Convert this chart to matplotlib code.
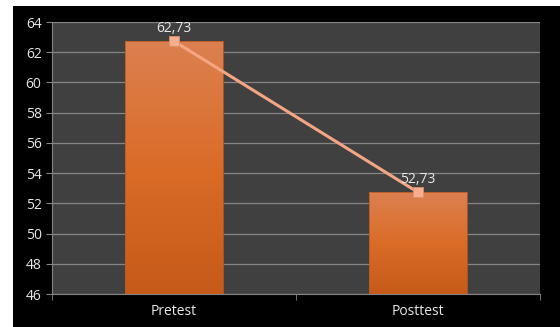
import numpy as np
from matplotlib import pyplot as plt
from matplotlib.colors import LinearSegmentedColormap

categories = ['Pretest', 'Posttest']
scores = [62.73, 52.73]
labels = ['62,73', '52,73']

plt.rcParams['font.family'] = ['Open Sans', 'DejaVu Sans']

fig = plt.figure(figsize=(5.6, 3.27), dpi=100)
fig.patch.set_facecolor('white')
# black chart frame inside a thin white margin
fig.add_artist(plt.Rectangle((13/560, 0), 1, 1 - 6/327, transform=fig.transFigure,
                             facecolor='black', edgecolor='none', zorder=0))

ax = fig.add_axes([52/560, 1 - 294/327, 488/560, 272/327])
ax.set_facecolor('#404040')

x = np.arange(len(categories))
bars = ax.bar(x, [s - 46 for s in scores], bottom=46, width=0.4,
              color='none', edgecolor='#b85a22', linewidth=0.6, zorder=3)

# vertical orange gradient in each bar
cmap = LinearSegmentedColormap.from_list('bar', ['#c65a18', '#da6c28', '#dc8050'])
grad = np.linspace(0, 1, 256).reshape(-1, 1)
for b in bars:
    x0, y0 = b.get_x(), b.get_y()
    im = ax.imshow(grad, cmap=cmap, origin='lower', aspect='auto',
                   extent=[x0, x0 + b.get_width(), y0, y0 + b.get_height()], zorder=2)
    im.set_clip_path(b)

ax.plot(x, scores, color='#f4a582', linewidth=2.2, marker='s', markersize=7,
        markerfacecolor='#f6ae8e', markeredgecolor='#d9906e', markeredgewidth=0.6, zorder=4)

for xi, s, lab in zip(x, scores, labels):
    ax.annotate(lab, (xi, s), xytext=(0, 4), textcoords='offset points',
                ha='center', va='bottom', color='#e8e8e8', fontsize=10, zorder=5)

ax.set_xlim(-0.5, 1.5)
ax.set_ylim(46, 64)
ax.set_yticks(np.arange(46, 65, 2))
ax.set_xticks(x)
ax.set_xticklabels(categories)
ax.set_xticks([-0.5, 0.5, 1.5], minor=True)

ax.yaxis.grid(True, color='#858585', linewidth=0.9)
ax.set_axisbelow(True)
for side in ['top', 'right']:
    ax.spines[side].set_visible(False)
ax.spines['left'].set_color('#858585')
ax.spines['bottom'].set_color('#858585')
ax.tick_params(axis='y', colors='#858585', labelcolor='#e8e8e8', labelsize=10, length=4)
ax.tick_params(axis='x', which='major', length=0, labelcolor='#e8e8e8', labelsize=10, pad=7)
ax.tick_params(axis='x', which='minor', length=4, color='#858585')

fig.savefig('out.png', dpi=100)
